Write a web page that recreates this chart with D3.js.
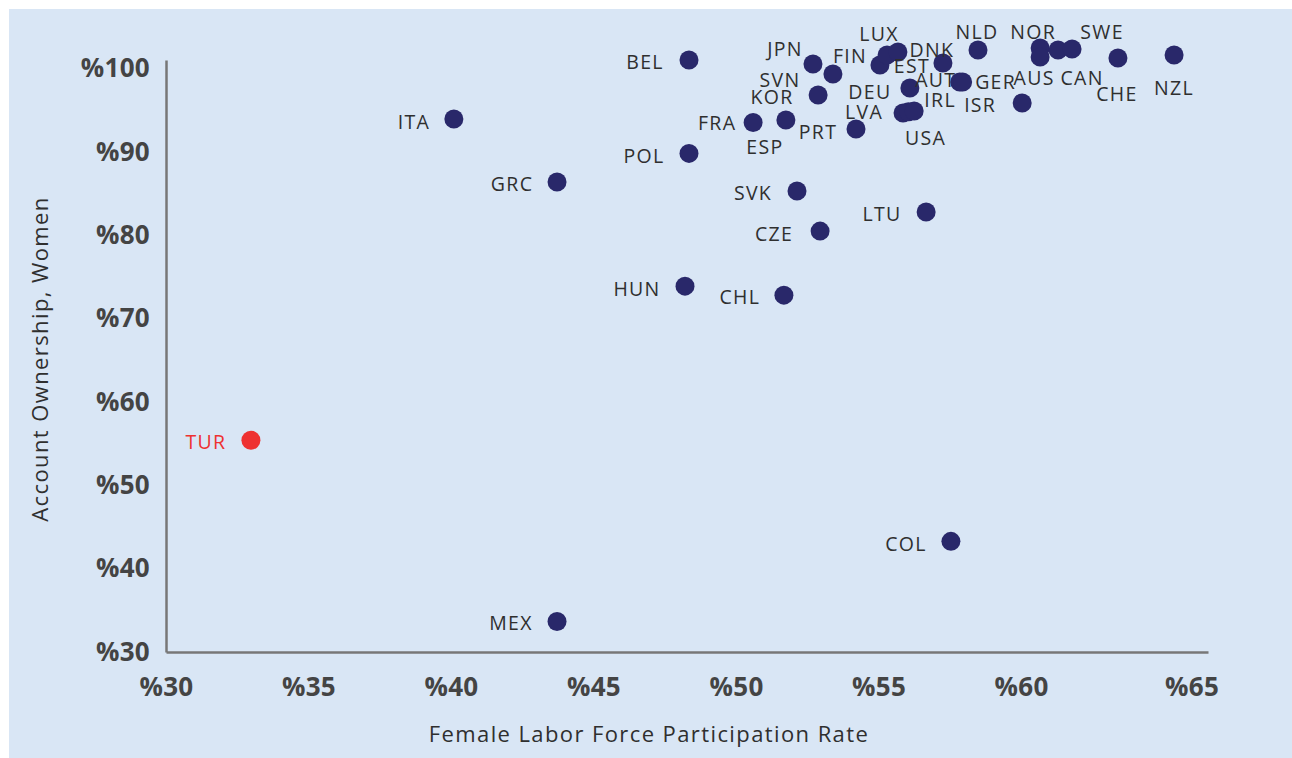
<!DOCTYPE html>
<html>
<head>
<meta charset="utf-8">
<script src="https://cdn.jsdelivr.net/npm/d3@7"></script>
<style>
  html, body { margin: 0; padding: 0; background: #fff; }
  svg { display: block; font-family: 'Open Sans', sans-serif; }
  .tick-label { font-weight: 700; fill: #444; font-size: 26px; letter-spacing: 0.3px; }
  .pt-label { fill: #2f2f2f; font-size: 19.5px; letter-spacing: 1.3px; }
  .axis-title { fill: #2f2f2f; font-size: 22px; letter-spacing: 1.4px; }
</style>
</head>
<body>
<div id="chart"></div>
<script>
// countries, female labour force participation (%) and account ownership of women (%)
const countries = ['TUR', 'MEX', 'COL', 'HUN', 'CHL', 'CZE', 'LTU', 'SVK', 'GRC', 'POL',
  'ITA', 'FRA', 'ESP', 'PRT', 'KOR', 'SVN', 'JPN', 'BEL', 'FIN', 'LUX',
  'DNK', 'EST', 'NLD', 'NOR', 'AUS', 'CAN', 'SWE', 'CHE', 'NZL', 'ISR',
  'AUT', 'GER', 'DEU', 'LVA', 'USA', 'IRL']
const laborRate = [32.98, 43.72, 57.54, 48.21, 51.68, 52.95, 56.67, 52.14, 43.72, 48.35,
  40.1, 50.6, 51.75, 54.21, 52.88, 53.4, 52.7, 48.35, 55.05, 55.3,
  55.68, 57.26, 58.49, 60.67, 60.67, 61.3, 61.79, 63.4, 65.37, 60.04,
  57.85, 57.95, 56.1, 55.86, 56.05, 56.25]
const accountOwnership = [55.4, 33.66, 43.27, 73.88, 72.8, 80.48, 82.76, 85.28, 86.36, 89.8,
  93.93, 93.5, 93.8, 92.72, 96.8, 99.33, 100.53, 101.0, 100.4, 101.6,
  101.97, 100.65, 102.2, 102.45, 101.37, 102.2, 102.33, 101.25, 101.6, 95.85,
  98.37, 98.37, 97.65, 94.65, 94.8, 94.89]
const highlight = 'TUR'

const xTicks = [30, 35, 40, 45, 50, 55, 60, 65]
const yTicks = [30, 40, 50, 60, 70, 80, 90, 100]

// label centre relative to its dot
const labelOffsets = {
  BEL: [-44, 1], JPN: [-28, -15], FIN: [-30, -10], LUX: [-8, -21], DNK: [34, -2],
  EST: [-31, 3], NLD: [-1, -18], NOR: [-7, -16], SWE: [30, -17], AUS: [-6, 21],
  CAN: [24, 28], CHE: [-1, 36], NZL: [0, 33], SVN: [-53, 6], KOR: [-46, 1],
  AUT: [-24, -2], GER: [33, 0], DEU: [-40, 4], IRL: [26, -11], LVA: [-39, -1],
  USA: [17, 26], ISR: [-42, 2], ITA: [-40, 3], FRA: [-36, 0], ESP: [-21, 26],
  PRT: [-38, 2], POL: [-45, 2], GRC: [-45, 1], SVK: [-44, 1], LTU: [-44, 1],
  CZE: [-46, 2], HUN: [-48, 2], CHL: [-44, 1], TUR: [-45, 1], COL: [-45, 2],
  MEX: [-46, 1]
}

const width = 1292, height = 758

const svg = d3.select('#chart').append('svg')
  .attr('width', width).attr('height', height)

svg.append('rect')
  .attr('x', 9).attr('y', 9)
  .attr('width', width - 9).attr('height', height - 9)
  .attr('fill', '#d9e6f5')

const x = d3.scaleLinear().domain([30, 66.56]).range([166, 1208])
const y = d3.scaleLinear().domain([30, 101]).range([652, 60])

function styleAxis(g) {
  g.attr('font-family', null).attr('font-size', null)
  g.select('.domain').attr('stroke', '#777').attr('stroke-width', 2.5)
  g.selectAll('text').attr('class', 'tick-label').attr('fill', null)
}

const xAxis = svg.append('g')
  .attr('transform', 'translate(0,' + y(30) + ')')
  .call(d3.axisBottom(x).tickValues(xTicks).tickSize(0).tickSizeOuter(0).tickPadding(26)
    .tickFormat(d => '%' + d))
styleAxis(xAxis)
// the last label sits nearer the axis end in the original
xAxis.selectAll('.tick').filter(d => d === 65).select('text').attr('dx', 28)

const yAxis = svg.append('g')
  .attr('transform', 'translate(' + x(30) + ',0)')
  .call(d3.axisLeft(y).tickValues(yTicks).tickSize(0).tickSizeOuter(0).tickPadding(16)
    .tickFormat(d => '%' + d))
styleAxis(yAxis)

const data = countries.map((c, i) => ({ name: c, lf: laborRate[i], acc: accountOwnership[i] }))

svg.append('g').selectAll('circle')
  .data(data)
  .enter()
  .append('circle')
  .attr('cx', d => x(d.lf))
  .attr('cy', d => y(d.acc))
  .attr('r', 9.5)
  .attr('fill', d => d.name === highlight ? '#ee3131' : '#29286a')

svg.append('g').selectAll('text')
  .data(data)
  .enter()
  .append('text')
  .attr('class', 'pt-label')
  .attr('x', d => x(d.lf) + labelOffsets[d.name][0])
  .attr('y', d => y(d.acc) + labelOffsets[d.name][1])
  .attr('text-anchor', 'middle')
  .attr('dominant-baseline', 'central')
  .style('fill', d => d.name === highlight ? '#ee3131' : null)
  .text(d => d.name)

svg.append('text')
  .attr('class', 'axis-title')
  .attr('x', 649).attr('y', 733)
  .attr('text-anchor', 'middle')
  .attr('dominant-baseline', 'central')
  .text('Female Labor Force Participation Rate')

svg.append('text')
  .attr('class', 'axis-title')
  .attr('transform', 'translate(39,359) rotate(-90)')
  .attr('text-anchor', 'middle')
  .attr('dominant-baseline', 'central')
  .text('Account Ownership, Women')
</script>
</body>
</html>
